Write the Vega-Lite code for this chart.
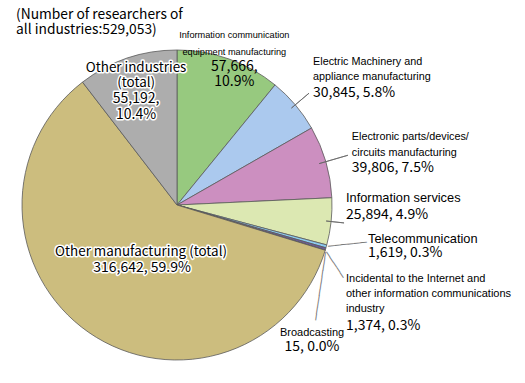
{
  "$schema": "https://vega.github.io/schema/vega-lite/v6.json",
  "autosize": "none",
  "width": 354,
  "height": 356,
  "padding": {"top": 27, "left": 0, "right": 171, "bottom": 0},
  "background": "white",
  "config": {"view": {"stroke": null}},
  "title": {"text": ["(Number of researchers of", "all industries:529,053)"], "anchor": "start", "frame": "group", "orient": "top", "offset": -34.7, "baseline": "top", "lineHeight": 15.5, "dx": 16, "font": "Noto Sans CJK JP", "fontSize": 13.8, "fontWeight": "normal", "color": "#000"},
  "data": {"values": [
    {"order": 1, "cat": "Information communication equipment manufacturing", "value": 57666, "name": "Information communication\nequipment manufacturing", "lab": "57,666,\n10.9%"},
    {"order": 2, "cat": "Electric Machinery and appliance manufacturing", "value": 30845, "name": "Electric Machinery and\nappliance manufacturing", "lab": "30,845, 5.8%"},
    {"order": 3, "cat": "Electronic parts/devices/circuits manufacturing", "value": 39806, "name": "Electronic parts/devices/\ncircuits manufacturing", "lab": "39,806, 7.5%"},
    {"order": 4, "cat": "Information services", "value": 25894, "name": "Information services", "lab": "25,894, 4.9%"},
    {"order": 5, "cat": "Telecommunication", "value": 1619, "name": "Telecommunication", "lab": "1,619, 0.3%"},
    {"order": 6, "cat": "Incidental to the Internet and other information communications industry", "value": 1374, "name": "Incidental to the Internet and\nother information communications\nindustry", "lab": "1,374, 0.3%"},
    {"order": 7, "cat": "Broadcasting", "value": 15, "name": "Broadcasting", "lab": "15, 0.0%"},
    {"order": 8, "cat": "Other manufacturing (total)", "value": 316642, "name": "Other manufacturing (total)", "lab": "316,642, 59.9%"},
    {"order": 9, "cat": "Other industries (total)", "value": 55192, "name": "Other industries\n(total)", "lab": "55,192,\n10.4%"}
  ]},
  "encoding": {
    "theta": {"field": "value", "type": "quantitative", "stack": true},
    "order": {"field": "order", "type": "quantitative"}
  },
  "layer": [
    {"mark": {"type": "arc", "outerRadius": 155, "stroke": "#5a5a5a", "strokeWidth": 0.8},
     "encoding": {"color": {"field": "cat", "type": "nominal", "legend": null,
       "scale": {"domain": ["Information communication equipment manufacturing", "Electric Machinery and appliance manufacturing", "Electronic parts/devices/circuits manufacturing", "Information services", "Telecommunication", "Incidental to the Internet and other information communications industry", "Broadcasting", "Other manufacturing (total)", "Other industries (total)"],
                 "range": ["#97c97f", "#abc9ee", "#cc8fc0", "#dce8b2", "#8ccaf0", "#6b5b95", "#c0c0c0", "#ccbd7e", "#adadad"]}}}},
    {"mark": {"type": "arc", "innerRadius": 150, "outerRadius": 173, "padAngle": 3, "fillOpacity": 0, "stroke": "#666", "strokeWidth": 0.8},
     "encoding": {"strokeOpacity": {"condition": {"test": "datum.order === 2", "value": 1}, "value": 0}}},
    {"mark": {"type": "arc", "innerRadius": 148, "outerRadius": 178, "padAngle": 3, "fillOpacity": 0, "stroke": "#666", "strokeWidth": 0.8},
     "encoding": {"strokeOpacity": {"condition": {"test": "datum.order === 3", "value": 1}, "value": 0}}},
    {"mark": {"type": "arc", "innerRadius": 150, "outerRadius": 168, "padAngle": 3, "fillOpacity": 0, "stroke": "#666", "strokeWidth": 0.8},
     "encoding": {"strokeOpacity": {"condition": {"test": "datum.order === 4", "value": 1}, "value": 0}}},
    {"mark": {"type": "text", "radius": 190, "dx": -11.4, "dy": -12, "angle": -5.9, "align": "center", "baseline": "middle", "font": "DejaVu Sans Mono", "fontSize": 10.8, "color": "#777"},
     "encoding": {"text": {"condition": {"test": "datum.order === 5", "value": "──────"}, "value": ""}}},
    {"mark": {"type": "text", "radius": 175, "dx": 3, "dy": 14.3, "angle": 56.8, "align": "center", "baseline": "middle", "font": "DejaVu Sans Mono", "fontSize": 10.3, "color": "#777"},
     "encoding": {"text": {"condition": {"test": "datum.order === 6", "value": "─────"}, "value": ""}}},
    {"mark": {"type": "text", "radius": 160, "dx": 35.4, "dy": 4.9, "angle": 98.4, "align": "center", "baseline": "middle", "font": "DejaVu Sans Mono", "fontSize": 10.4, "color": "#777"},
     "encoding": {"text": {"condition": {"test": "datum.order === 7", "value": "───────────"}, "value": ""}}},
    {"mark": {"type": "text", "radius": 135, "dx": 12, "dy": -42.8, "align": "center", "baseline": "middle", "font": "Liberation Sans", "fontSize": 9.2, "lineBreak": "\n", "lineHeight": 16.7, "color": "#000"},
     "encoding": {"text": {"condition": {"test": "datum.order === 1", "field": "name"}, "value": ""}}},
    {"mark": {"type": "text", "radius": 135, "dx": 12, "dy": -10.8, "align": "center", "baseline": "middle", "font": "Noto Sans CJK JP", "fontSize": 14, "lineBreak": "\n", "lineHeight": 15, "color": "#000"},
     "encoding": {"text": {"condition": {"test": "datum.order === 1", "field": "lab"}, "value": ""}}},
    {"mark": {"type": "text", "radius": 175, "dx": 2.5, "dy": -29.8, "align": "left", "baseline": "middle", "font": "Liberation Sans", "fontSize": 10.8, "lineBreak": "\n", "lineHeight": 15, "color": "#000"},
     "encoding": {"text": {"condition": {"test": "datum.order === 2", "field": "name"}, "value": ""}}},
    {"mark": {"type": "text", "radius": 175, "dx": 2.5, "dy": 1.2, "align": "left", "baseline": "middle", "font": "Noto Sans CJK JP", "fontSize": 14, "color": "#000"},
     "encoding": {"text": {"condition": {"test": "datum.order === 2", "field": "lab"}, "value": ""}}},
    {"mark": {"type": "text", "radius": 180, "dx": 2, "dy": -18.1, "align": "left", "baseline": "middle", "font": "Liberation Sans", "fontSize": 10.8, "lineBreak": "\n", "lineHeight": 16.6, "color": "#000"},
     "encoding": {"text": {"condition": {"test": "datum.order === 3", "field": "name"}, "value": ""}}},
    {"mark": {"type": "text", "radius": 180, "dx": 2, "dy": 13.5, "align": "left", "baseline": "middle", "font": "Noto Sans CJK JP", "fontSize": 14, "color": "#000"},
     "encoding": {"text": {"condition": {"test": "datum.order === 3", "field": "lab"}, "value": ""}}},
    {"mark": {"type": "text", "radius": 170, "dx": 0, "dy": -25.1, "align": "left", "baseline": "middle", "font": "Liberation Sans", "fontSize": 12.8, "color": "#000"},
     "encoding": {"text": {"condition": {"test": "datum.order === 4", "field": "name"}, "value": ""}}},
    {"mark": {"type": "text", "radius": 170, "dx": 0, "dy": -8.1, "align": "left", "baseline": "middle", "font": "Noto Sans CJK JP", "fontSize": 14, "color": "#000"},
     "encoding": {"text": {"condition": {"test": "datum.order === 4", "field": "lab"}, "value": ""}}},
    {"mark": {"type": "text", "radius": 190, "dx": 7.9, "dy": -16.8, "align": "left", "baseline": "middle", "font": "Liberation Sans", "fontSize": 12.8, "color": "#000"},
     "encoding": {"text": {"condition": {"test": "datum.order === 5", "field": "name"}, "value": ""}}},
    {"mark": {"type": "text", "radius": 190, "dx": 7.9, "dy": -2.8, "align": "left", "baseline": "middle", "font": "Noto Sans CJK JP", "fontSize": 14, "color": "#000"},
     "encoding": {"text": {"condition": {"test": "datum.order === 5", "field": "lab"}, "value": ""}}},
    {"mark": {"type": "text", "radius": 175, "dx": 1.2, "dy": 24.3, "align": "left", "baseline": "middle", "font": "Liberation Sans", "fontSize": 11, "lineBreak": "\n", "lineHeight": 15, "color": "#000"},
     "encoding": {"text": {"condition": {"test": "datum.order === 6", "field": "name"}, "value": ""}}},
    {"mark": {"type": "text", "radius": 175, "dx": 1.2, "dy": 71.3, "align": "left", "baseline": "middle", "font": "Noto Sans CJK JP", "fontSize": 14, "color": "#000"},
     "encoding": {"text": {"condition": {"test": "datum.order === 6", "field": "lab"}, "value": ""}}},
    {"mark": {"type": "text", "radius": 160, "dx": -18, "dy": 81.3, "align": "center", "baseline": "middle", "font": "Liberation Sans", "fontSize": 11, "color": "#000"},
     "encoding": {"text": {"condition": {"test": "datum.order === 7", "field": "name"}, "value": ""}}},
    {"mark": {"type": "text", "radius": 160, "dx": -18, "dy": 95.3, "align": "center", "baseline": "middle", "font": "Noto Sans CJK JP", "fontSize": 14, "color": "#000"},
     "encoding": {"text": {"condition": {"test": "datum.order === 7", "field": "lab"}, "value": ""}}},
    {"mark": {"type": "text", "radius": 70, "dx": 3.9, "dy": -10.5, "align": "center", "baseline": "middle", "font": "Noto Sans CJK JP", "fontSize": 13.4, "color": "#000", "stroke": "white", "strokeWidth": 3, "strokeJoin": "round"},
     "encoding": {"text": {"condition": {"test": "datum.order === 8", "field": "name"}, "value": ""}}},
    {"mark": {"type": "text", "radius": 70, "dx": 3.9, "dy": -10.5, "align": "center", "baseline": "middle", "font": "Noto Sans CJK JP", "fontSize": 13.4, "color": "#000"},
     "encoding": {"text": {"condition": {"test": "datum.order === 8", "field": "name"}, "value": ""}}},
    {"mark": {"type": "text", "radius": 70, "dx": 4.9, "dy": 5.5, "align": "center", "baseline": "middle", "font": "Noto Sans CJK JP", "fontSize": 14, "color": "#000", "stroke": "white", "strokeWidth": 3, "strokeJoin": "round"},
     "encoding": {"text": {"condition": {"test": "datum.order === 8", "field": "lab"}, "value": ""}}},
    {"mark": {"type": "text", "radius": 70, "dx": 4.9, "dy": 5.5, "align": "center", "baseline": "middle", "font": "Noto Sans CJK JP", "fontSize": 14, "color": "#000"},
     "encoding": {"text": {"condition": {"test": "datum.order === 8", "field": "lab"}, "value": ""}}},
    {"mark": {"type": "text", "radius": 120, "dx": -2.3, "dy": -23.4, "align": "center", "baseline": "middle", "font": "Noto Sans CJK JP", "fontSize": 13.4, "lineBreak": "\n", "lineHeight": 15, "color": "#000", "stroke": "white", "strokeWidth": 3, "strokeJoin": "round"},
     "encoding": {"text": {"condition": {"test": "datum.order === 9", "field": "name"}, "value": ""}}},
    {"mark": {"type": "text", "radius": 120, "dx": -2.3, "dy": -23.4, "align": "center", "baseline": "middle", "font": "Noto Sans CJK JP", "fontSize": 13.4, "lineBreak": "\n", "lineHeight": 15, "color": "#000"},
     "encoding": {"text": {"condition": {"test": "datum.order === 9", "field": "name"}, "value": ""}}},
    {"mark": {"type": "text", "radius": 120, "dx": -2.3, "dy": 7.6, "align": "center", "baseline": "middle", "font": "Noto Sans CJK JP", "fontSize": 14, "lineBreak": "\n", "lineHeight": 16, "color": "#000", "stroke": "white", "strokeWidth": 3, "strokeJoin": "round"},
     "encoding": {"text": {"condition": {"test": "datum.order === 9", "field": "lab"}, "value": ""}}},
    {"mark": {"type": "text", "radius": 120, "dx": -2.3, "dy": 7.6, "align": "center", "baseline": "middle", "font": "Noto Sans CJK JP", "fontSize": 14, "lineBreak": "\n", "lineHeight": 16, "color": "#000"},
     "encoding": {"text": {"condition": {"test": "datum.order === 9", "field": "lab"}, "value": ""}}}
  ]
}
